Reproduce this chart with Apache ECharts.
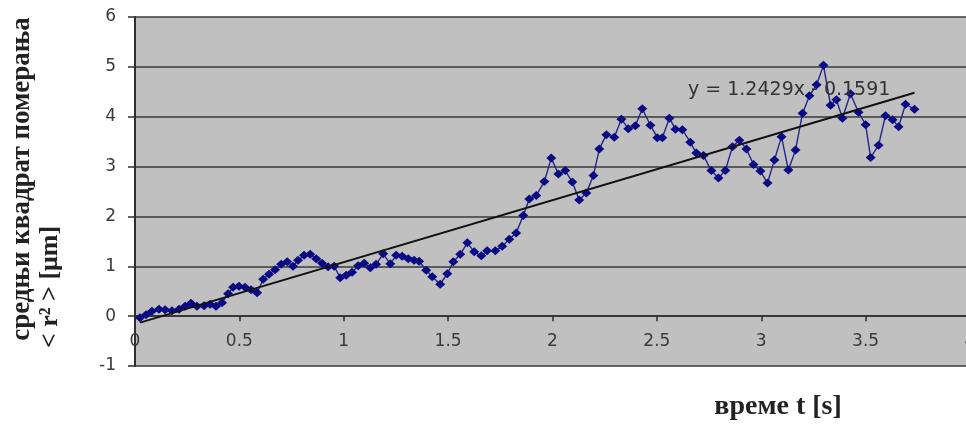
<!DOCTYPE html>
<html>
<head>
<meta charset="utf-8">
<script src="https://cdn.jsdelivr.net/npm/echarts@6/dist/echarts.min.js"></script>
<style>
  html, body { margin: 0; padding: 0; background: #ffffff; }
  #chart { width: 966px; height: 425px; }
</style>
</head>
<body>
<div id="chart"></div>
<script>
// Time of each frame [s]
const time = [
  0.024, 0.053, 0.081, 0.115, 0.144, 0.177, 0.211, 0.240, 0.268, 0.297,
  0.331, 0.360, 0.388, 0.417, 0.446, 0.470, 0.498, 0.527, 0.556, 0.585,
  0.614, 0.642, 0.671, 0.700, 0.729, 0.757, 0.781, 0.810, 0.839, 0.868,
  0.896, 0.925, 0.954, 0.983, 1.012, 1.040, 1.069, 1.098, 1.127, 1.155,
  1.189, 1.223, 1.251, 1.280, 1.309, 1.337, 1.361, 1.395, 1.424, 1.462,
  1.496, 1.525, 1.558, 1.592, 1.625, 1.659, 1.687, 1.726, 1.759, 1.793,
  1.826, 1.860, 1.889, 1.922, 1.961, 1.994, 2.028, 2.061, 2.095, 2.128,
  2.162, 2.196, 2.224, 2.258, 2.296, 2.330, 2.363, 2.397, 2.430, 2.469,
  2.502, 2.526, 2.560, 2.589, 2.622, 2.660, 2.689, 2.723, 2.761, 2.795,
  2.828, 2.862, 2.895, 2.929, 2.963, 2.996, 3.030, 3.063, 3.097, 3.130,
  3.164, 3.198, 3.231, 3.265, 3.298, 3.332, 3.360, 3.389, 3.427, 3.466,
  3.500, 3.524, 3.562, 3.595, 3.629, 3.658, 3.691, 3.734
];

// Mean squared displacement <r^2> [μm]
const msd = [
  -0.03, 0.03, 0.10, 0.14, 0.13, 0.11, 0.14, 0.20, 0.26, 0.20,
  0.21, 0.24, 0.20, 0.27, 0.45, 0.58, 0.60, 0.58, 0.53, 0.47,
  0.74, 0.84, 0.93, 1.04, 1.09, 1.00, 1.12, 1.22, 1.24, 1.15,
  1.06, 0.99, 1.00, 0.77, 0.82, 0.88, 1.01, 1.06, 0.97, 1.04,
  1.25, 1.05, 1.22, 1.20, 1.15, 1.12, 1.10, 0.92, 0.79, 0.64,
  0.85, 1.09, 1.24, 1.47, 1.29, 1.21, 1.31, 1.31, 1.40, 1.54,
  1.67, 2.02, 2.35, 2.42, 2.70, 3.17, 2.85, 2.92, 2.69, 2.33,
  2.47, 2.82, 3.35, 3.64, 3.59, 3.95, 3.76, 3.82, 4.16, 3.83,
  3.58, 3.58, 3.97, 3.75, 3.74, 3.49, 3.27, 3.22, 2.92, 2.77,
  2.92, 3.40, 3.53, 3.35, 3.04, 2.91, 2.67, 3.13, 3.60, 2.93,
  3.33, 4.07, 4.42, 4.64, 5.03, 4.23, 4.34, 3.97, 4.46, 4.09,
  3.84, 3.18, 3.43, 4.02, 3.94, 3.80, 4.25, 4.15
];

// Linear fit y = slope * x + intercept
const slope = 1.2429;
const intercept = -0.1591;

const xTicks = [0, 0.5, 1, 1.5, 2, 2.5, 3, 3.5, 4];
const yTicks = [-1, 0, 1, 2, 3, 4, 5, 6];

const points = time.map((t, i) => [t, msd[i]]);
const tStart = time[0];
const tEnd = time[time.length - 1];
const fitLine = [
  [tStart, slope * tStart + intercept],
  [tEnd, slope * tEnd + intercept]
];
const fitText = 'y = ' + slope.toFixed(4) + 'x - ' + Math.abs(intercept).toFixed(4);

const chart = echarts.init(document.getElementById('chart'), null, { renderer: 'canvas' });

const tickFont = { fontFamily: 'DejaVu Sans', fontSize: 17, color: '#3a3a3a' };
const titleFont = 'Liberation Serif';

chart.setOption({
  animation: false,
  backgroundColor: '#ffffff',
  grid: {
    left: 135, top: 17, height: 349, width: 835,
    outerBoundsMode: 'none',
    containLabel: false,
    show: true, backgroundColor: '#c0c0c0', borderWidth: 0
  },
  xAxis: {
    type: 'value',
    min: xTicks[0], max: xTicks[xTicks.length - 1], interval: 0.5,
    axisLine: { onZero: true, lineStyle: { color: '#2e2e2e', width: 1.5 } },
    axisTick: { show: true, inside: false, length: 5, lineStyle: { color: '#2e2e2e', width: 1.5 } },
    axisLabel: Object.assign({ margin: -33 }, tickFont),
    splitLine: { show: false }
  },
  yAxis: {
    type: 'value',
    min: yTicks[0], max: yTicks[yTicks.length - 1], interval: 1,
    axisLine: { show: true, onZero: false, lineStyle: { color: '#2e2e2e', width: 2 } },
    axisTick: { show: true, inside: false, length: 7, lineStyle: { color: '#2e2e2e', width: 1.5 } },
    axisLabel: Object.assign({ margin: 19 }, tickFont),
    splitLine: { show: true, lineStyle: { color: '#3a3a3a', width: 1.6 } }
  },
  series: [
    {
      name: 'msd',
      type: 'line',
      data: points,
      symbol: 'diamond',
      symbolSize: [10, 9],
      itemStyle: { color: '#0a0a84' },
      lineStyle: { color: '#24248a', width: 1.4 },
      z: 3
    },
    {
      name: 'fit',
      type: 'line',
      data: fitLine,
      symbol: 'none',
      lineStyle: { color: '#111111', width: 2 },
      z: 4
    }
  ],
  graphic: [
    {
      type: 'text',
      left: 688, top: 81,
      style: { text: fitText, fontFamily: 'DejaVu Sans', fontSize: 19, fill: '#333333' },
      z: 10
    },
    {
      type: 'text',
      x: 22, y: 179, rotation: Math.PI / 2,
      style: {
        text: 'средњи квадрат померања',
        fontFamily: titleFont, fontWeight: 'bold', fontSize: 27,
        fill: '#222222', align: 'center', verticalAlign: 'middle'
      }
    },
    {
      type: 'text',
      x: 50, y: 287, rotation: Math.PI / 2,
      style: {
        text: '< r² > [μm]',
        fontFamily: titleFont, fontWeight: 'bold', fontSize: 26,
        fill: '#222222', align: 'center', verticalAlign: 'middle'
      }
    },
    {
      type: 'text',
      x: 778, y: 407,
      style: {
        text: 'време t [s]',
        fontFamily: titleFont, fontWeight: 'bold', fontSize: 28,
        fill: '#222222', align: 'center', verticalAlign: 'middle'
      }
    }
  ]
});
</script>
</body>
</html>
